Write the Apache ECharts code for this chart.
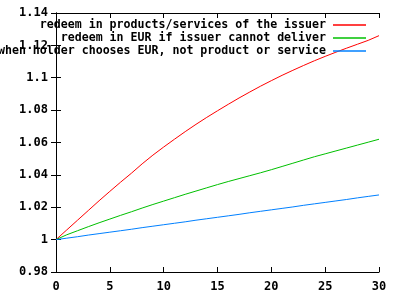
<!DOCTYPE html>
<html>
<head>
<meta charset="utf-8">
<script src="https://cdn.jsdelivr.net/npm/echarts@6/dist/echarts.min.js"></script>
<style>
  html, body { margin: 0; padding: 0; background: #fff; }
  #chart { width: 400px; height: 300px; }
</style>
</head>
<body>
<div id="chart"></div>
<script>
const years = [0, 1, 2, 3, 4, 5, 6, 7, 8, 9, 10, 11, 12, 13, 14, 15,
  16, 17, 18, 19, 20, 21, 22, 23, 24, 25, 26, 27, 28, 29, 30];

const seriesNames = [
  'redeem in products/services of the issuer',
  'redeem in EUR if issuer cannot deliver',
  'when holder chooses EUR, not product or service'
];

const productValues = [1.000, 1.006, 1.012, 1.018, 1.024, 1.0298, 1.0355, 1.041, 1.0468, 1.0522,
  1.0572, 1.062, 1.0667, 1.0712, 1.0755, 1.0796, 1.0836, 1.0875, 1.0912, 1.0948,
  1.0982, 1.1015, 1.1046, 1.1076, 1.1105, 1.1132, 1.1158, 1.1183, 1.1207, 1.1231, 1.126];

const eurDefaultValues = [1.000, 1.003, 1.0055, 1.008, 1.0104, 1.0127, 1.015, 1.0172, 1.0195, 1.0217,
  1.0238, 1.0259, 1.028, 1.030, 1.032, 1.034, 1.0359, 1.0377, 1.0395, 1.0413,
  1.0432, 1.0452, 1.0472, 1.0492, 1.0512, 1.053, 1.0548, 1.0566, 1.0584, 1.0602, 1.062];

const eurChoiceValues = [1.000, 1.0009, 1.0018, 1.0028, 1.0037, 1.0046, 1.0055, 1.0064, 1.0074, 1.0083,
  1.0092, 1.0101, 1.011, 1.012, 1.0129, 1.0138, 1.0147, 1.0156, 1.0166, 1.0175,
  1.0184, 1.0193, 1.0202, 1.0212, 1.0221, 1.023, 1.0239, 1.0248, 1.0258, 1.0267, 1.0276];

const colors = ['#ff0000', '#00c000', '#0080ff'];
const font = 'DejaVu Sans Mono';

const chart = echarts.init(document.getElementById('chart'));

const pairs = (vals) => years.map((x, i) => [x, vals[i]]);

// one legend per row so every row lines up on the right, gnuplot style
const makeLegend = (i) => ({
  data: [seriesNames[i]],
  orient: 'vertical',
  right: 34,
  top: 19 + i * 13,
  align: 'right',
  icon: 'rect',
  itemWidth: 33,
  itemHeight: 1.5,
  padding: 0,
  selectedMode: false,
  textStyle: { fontFamily: font, fontWeight: 'bold', fontSize: 11.6, color: '#000', padding: [0, 2, 0, 0] }
});

const axisCommon = {
  axisLine: { show: true, lineStyle: { color: '#000', width: 1 } },
  axisTick: { show: true, inside: true, length: 5, lineStyle: { color: '#000' } },
  splitLine: { show: false }
};

chart.setOption({
  animation: false,
  backgroundColor: '#fff',
  legend: [makeLegend(0), makeLegend(1), makeLegend(2)],
  grid: { left: 56, right: 21, top: 13, bottom: 28, containLabel: false },
  xAxis: [
    {
      type: 'value', min: 0, max: 30, interval: 5, position: 'bottom',
      ...axisCommon,
      axisLabel: { fontFamily: font, fontWeight: 'bold', fontSize: 12, color: '#000', margin: 9 }
    },
    {
      type: 'value', min: 0, max: 30, interval: 5, position: 'top',
      ...axisCommon,
      axisLabel: { show: false }
    }
  ],
  yAxis: [
    {
      type: 'value', min: 0.98, max: 1.14, interval: 0.02, position: 'left',
      ...axisCommon,
      axisLabel: {
        fontFamily: font, fontWeight: 'bold', fontSize: 12, color: '#000', margin: 8,
        formatter: (v) => String(+v.toFixed(2))
      }
    },
    {
      type: 'value', min: 0.98, max: 1.14, interval: 0.02, position: 'right',
      ...axisCommon,
      axisLabel: { show: false }
    }
  ],
  series: [productValues, eurDefaultValues, eurChoiceValues].map((vals, i) => ({
    name: seriesNames[i],
    type: 'line',
    data: pairs(vals),
    showSymbol: false,
    symbol: 'none',
    color: colors[i],
    lineStyle: { color: colors[i], width: 1 },
    z: 2
  }))
});
</script>
</body>
</html>
